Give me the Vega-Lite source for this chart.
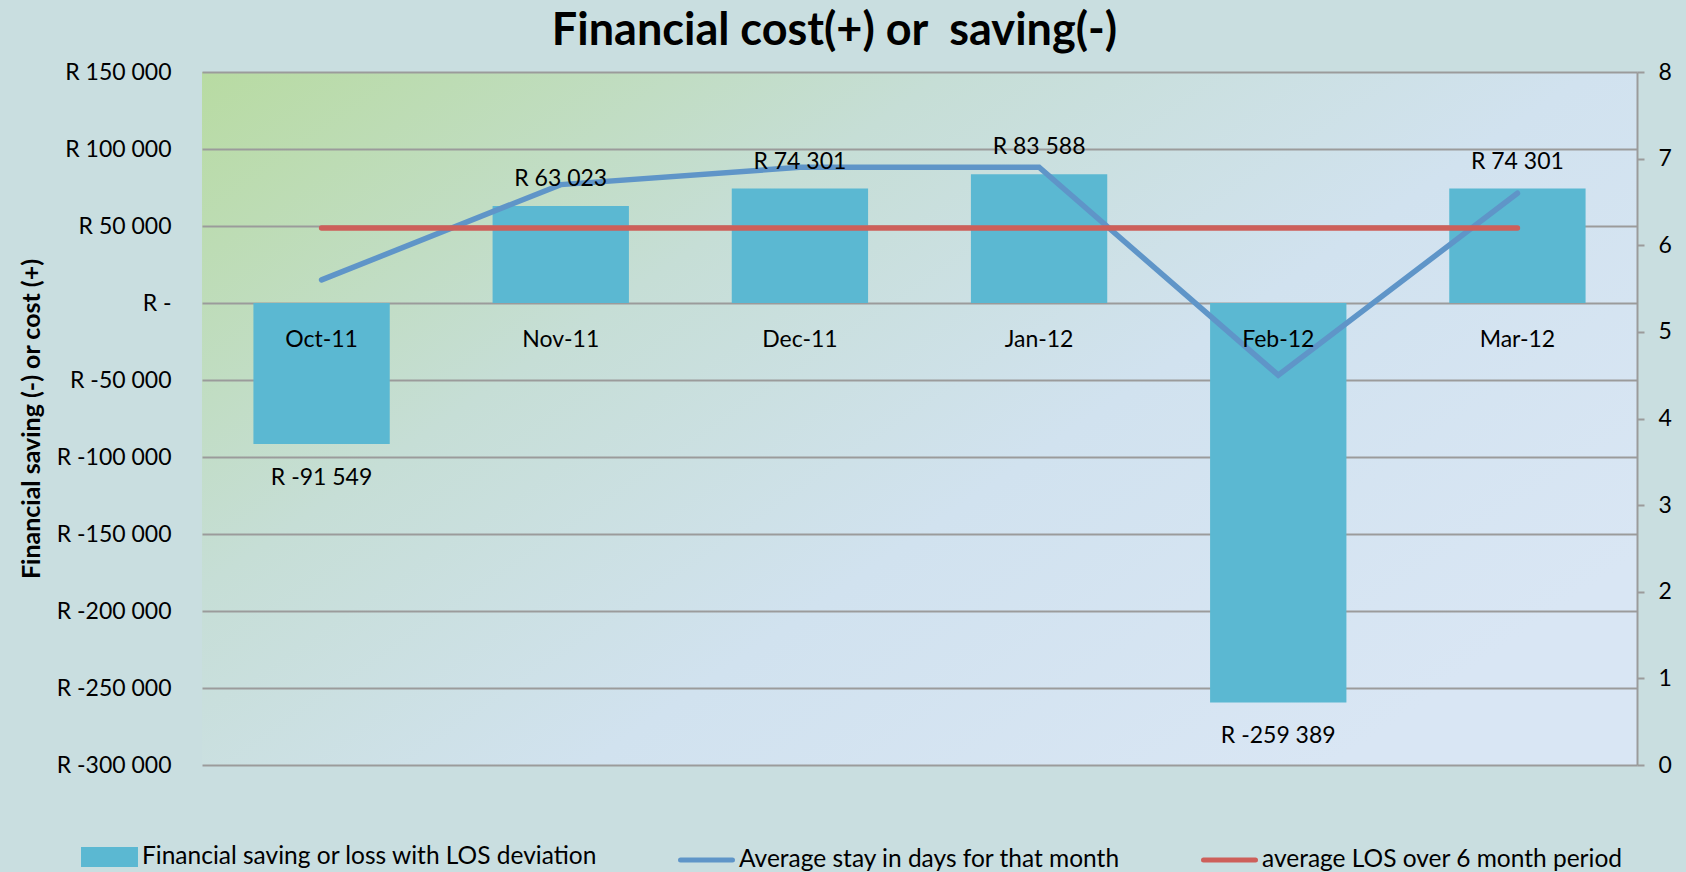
{
  "$schema": "https://vega.github.io/schema/vega-lite/v6.json",
  "width": 1435,
  "height": 693,
  "autosize": {"type": "none"},
  "padding": {"left": 202, "top": 72, "right": 49, "bottom": 107},
  "background": "#C9DEE0",
  "title": {
    "text": "Financial cost(+) or \u00a0saving(-)",
    "font": "Lato",
    "fontSize": 45,
    "fontWeight": "bold",
    "color": "#000000",
    "anchor": "middle",
    "frame": "group",
    "dx": -85,
    "offset": 7
  },
  "config": {
    "font": "Lato",
    "view": {
      "stroke": null,
      "fill": {
        "gradient": "linear",
        "x1": 0, "y1": 0, "x2": 1, "y2": 0.7,
        "stops": [
          {"offset": 0, "color": "#B8DBA2"},
          {"offset": 0.35, "color": "#C6DED6"},
          {"offset": 0.65, "color": "#D1E2EF"},
          {"offset": 1, "color": "#D9E6F4"}
        ]
      }
    }
  },
  "data": {
    "values": [
      {"month": "Oct-11", "cost": -91549, "stay": 5.6, "avg": 6.2},
      {"month": "Nov-11", "cost": 63023, "stay": 6.7, "avg": 6.2},
      {"month": "Dec-11", "cost": 74301, "stay": 6.9, "avg": 6.2},
      {"month": "Jan-12", "cost": 83588, "stay": 6.9, "avg": 6.2},
      {"month": "Feb-12", "cost": -259389, "stay": 4.5, "avg": 6.2},
      {"month": "Mar-12", "cost": 74301, "stay": 6.6, "avg": 6.2}
    ]
  },
  "transform": [
    {"calculate": "'R ' + (datum.cost < 0 ? '-' : '') + replace(format(abs(datum.cost), ','), ',', ' ')", "as": "label"}
  ],
  "encoding": {
    "x": {
      "field": "month",
      "type": "ordinal",
      "sort": null,
      "axis": null,
      "scale": {"paddingInner": 0.43, "paddingOuter": 0.215}
    }
  },
  "layer": [
    {
      "mark": {"type": "bar"},
      "encoding": {
        "y": {
          "field": "cost",
          "type": "quantitative",
          "scale": {"domain": [-300000, 150000], "nice": false, "zero": false},
          "axis": {
            "orient": "left",
            "title": "Financial saving (-) or cost (+)",
            "titleFont": "Lato",
            "titleFontSize": 25,
            "titleFontWeight": "bold",
            "titleColor": "#000000",
            "titlePadding": 12,
            "values": [-300000, -250000, -200000, -150000, -100000, -50000, 0, 50000, 100000, 150000],
            "labelExpr": "datum.value === 0 ? 'R -' : 'R ' + (datum.value < 0 ? '-' : '') + replace(format(abs(datum.value), ','), ',', ' ')",
            "labelFont": "Lato",
            "labelFontSize": 23,
            "labelColor": "#000000",
            "labelPadding": 31,
            "ticks": false,
            "tickSize": 0,
            "domain": false,
            "grid": true,
            "gridColor": "#9B9B9B",
            "gridWidth": 2
          }
        },
        "color": {
          "datum": "Financial saving or loss with LOS deviation",
          "type": "nominal",
          "scale": {
            "domain": ["Financial saving or loss with LOS deviation", "Average stay in days for that month", "average LOS over 6 month period"],
            "range": ["#5BB8D2", "#5F95C8", "#CD5F5A"]
          },
          "legend": {
            "orient": "none",
            "legendX": -121,
            "legendY": 756,
            "direction": "horizontal",
            "title": null,
            "padding": 0,
            "labelFont": "Lato",
            "labelFontSize": 24.5,
            "labelColor": "#000000",
            "labelLimit": 800,
            "labelOffset": 4,
            "symbolSize": 2700,
            "columnPadding": 72,
            "symbolStrokeWidth": 5,
            "encode": {
              "symbols": {
                "update": {
                  "shape": {"signal": "datum.value === 'Financial saving or loss with LOS deviation' ? 'M-1,-0.29H1V0.29H-1Z' : 'M-1,0H1'"},
                  "fill": {"signal": "datum.value === 'Financial saving or loss with LOS deviation' ? '#5BB8D2' : 'transparent'"},
                  "stroke": {"signal": "datum.value === 'Financial saving or loss with LOS deviation' ? 'transparent' : (datum.value === 'Average stay in days for that month' ? '#5F95C8' : '#CD5F5A')"},
                  "strokeWidth": {"value": 5},
                  "strokeCap": {"value": "round"},
                  "opacity": {"value": 1}
                }
              }
            }
          }
        }
      }
    },
    {
      "encoding": {
        "y": {
          "field": "stay",
          "type": "quantitative",
          "scale": {"domain": [0, 8], "nice": false},
          "axis": {
            "orient": "right",
            "title": null,
            "values": [0, 1, 2, 3, 4, 5, 6, 7, 8],
            "labelFont": "Lato",
            "labelFontSize": 23,
            "labelColor": "#000000",
            "labelPadding": 14,
            "grid": false,
            "domain": true,
            "domainColor": "#9B9B9B",
            "domainWidth": 2,
            "ticks": true,
            "tickSize": 7,
            "tickColor": "#9B9B9B",
            "tickWidth": 2
          }
        }
      },
      "layer": [
        {
          "mark": {"type": "line", "strokeWidth": 5.5, "strokeCap": "round"},
          "encoding": {"color": {"datum": "Average stay in days for that month", "type": "nominal"}}
        },
        {
          "mark": {"type": "line", "strokeWidth": 5.5, "strokeCap": "round"},
          "encoding": {
            "y": {"field": "avg", "type": "quantitative"},
            "color": {"datum": "average LOS over 6 month period", "type": "nominal"}
          }
        }
      ]
    },
    {
      "encoding": {
        "y": {
          "field": "cost",
          "type": "quantitative",
          "scale": {"domain": [-300000, 150000], "nice": false, "zero": false},
          "axis": null
        }
      },
      "layer": [
        {
          "transform": [{"filter": "datum.cost >= 0"}],
          "mark": {"type": "text", "dy": -20, "baseline": "alphabetic", "font": "Lato", "fontSize": 23, "color": "#000000"},
          "encoding": {"text": {"field": "label", "type": "nominal"}}
        },
        {
          "transform": [{"filter": "datum.cost < 0"}],
          "mark": {"type": "text", "dy": 41, "baseline": "alphabetic", "font": "Lato", "fontSize": 23, "color": "#000000"},
          "encoding": {"text": {"field": "label", "type": "nominal"}}
        },
        {
          "mark": {"type": "text", "dy": 44, "baseline": "alphabetic", "font": "Lato", "fontSize": 23, "color": "#000000"},
          "encoding": {
            "y": {"datum": 0, "type": "quantitative"},
            "text": {"field": "month", "type": "nominal"}
          }
        }
      ]
    }
  ],
  "resolve": {"scale": {"y": "independent"}, "axis": {"y": "independent"}}
}
